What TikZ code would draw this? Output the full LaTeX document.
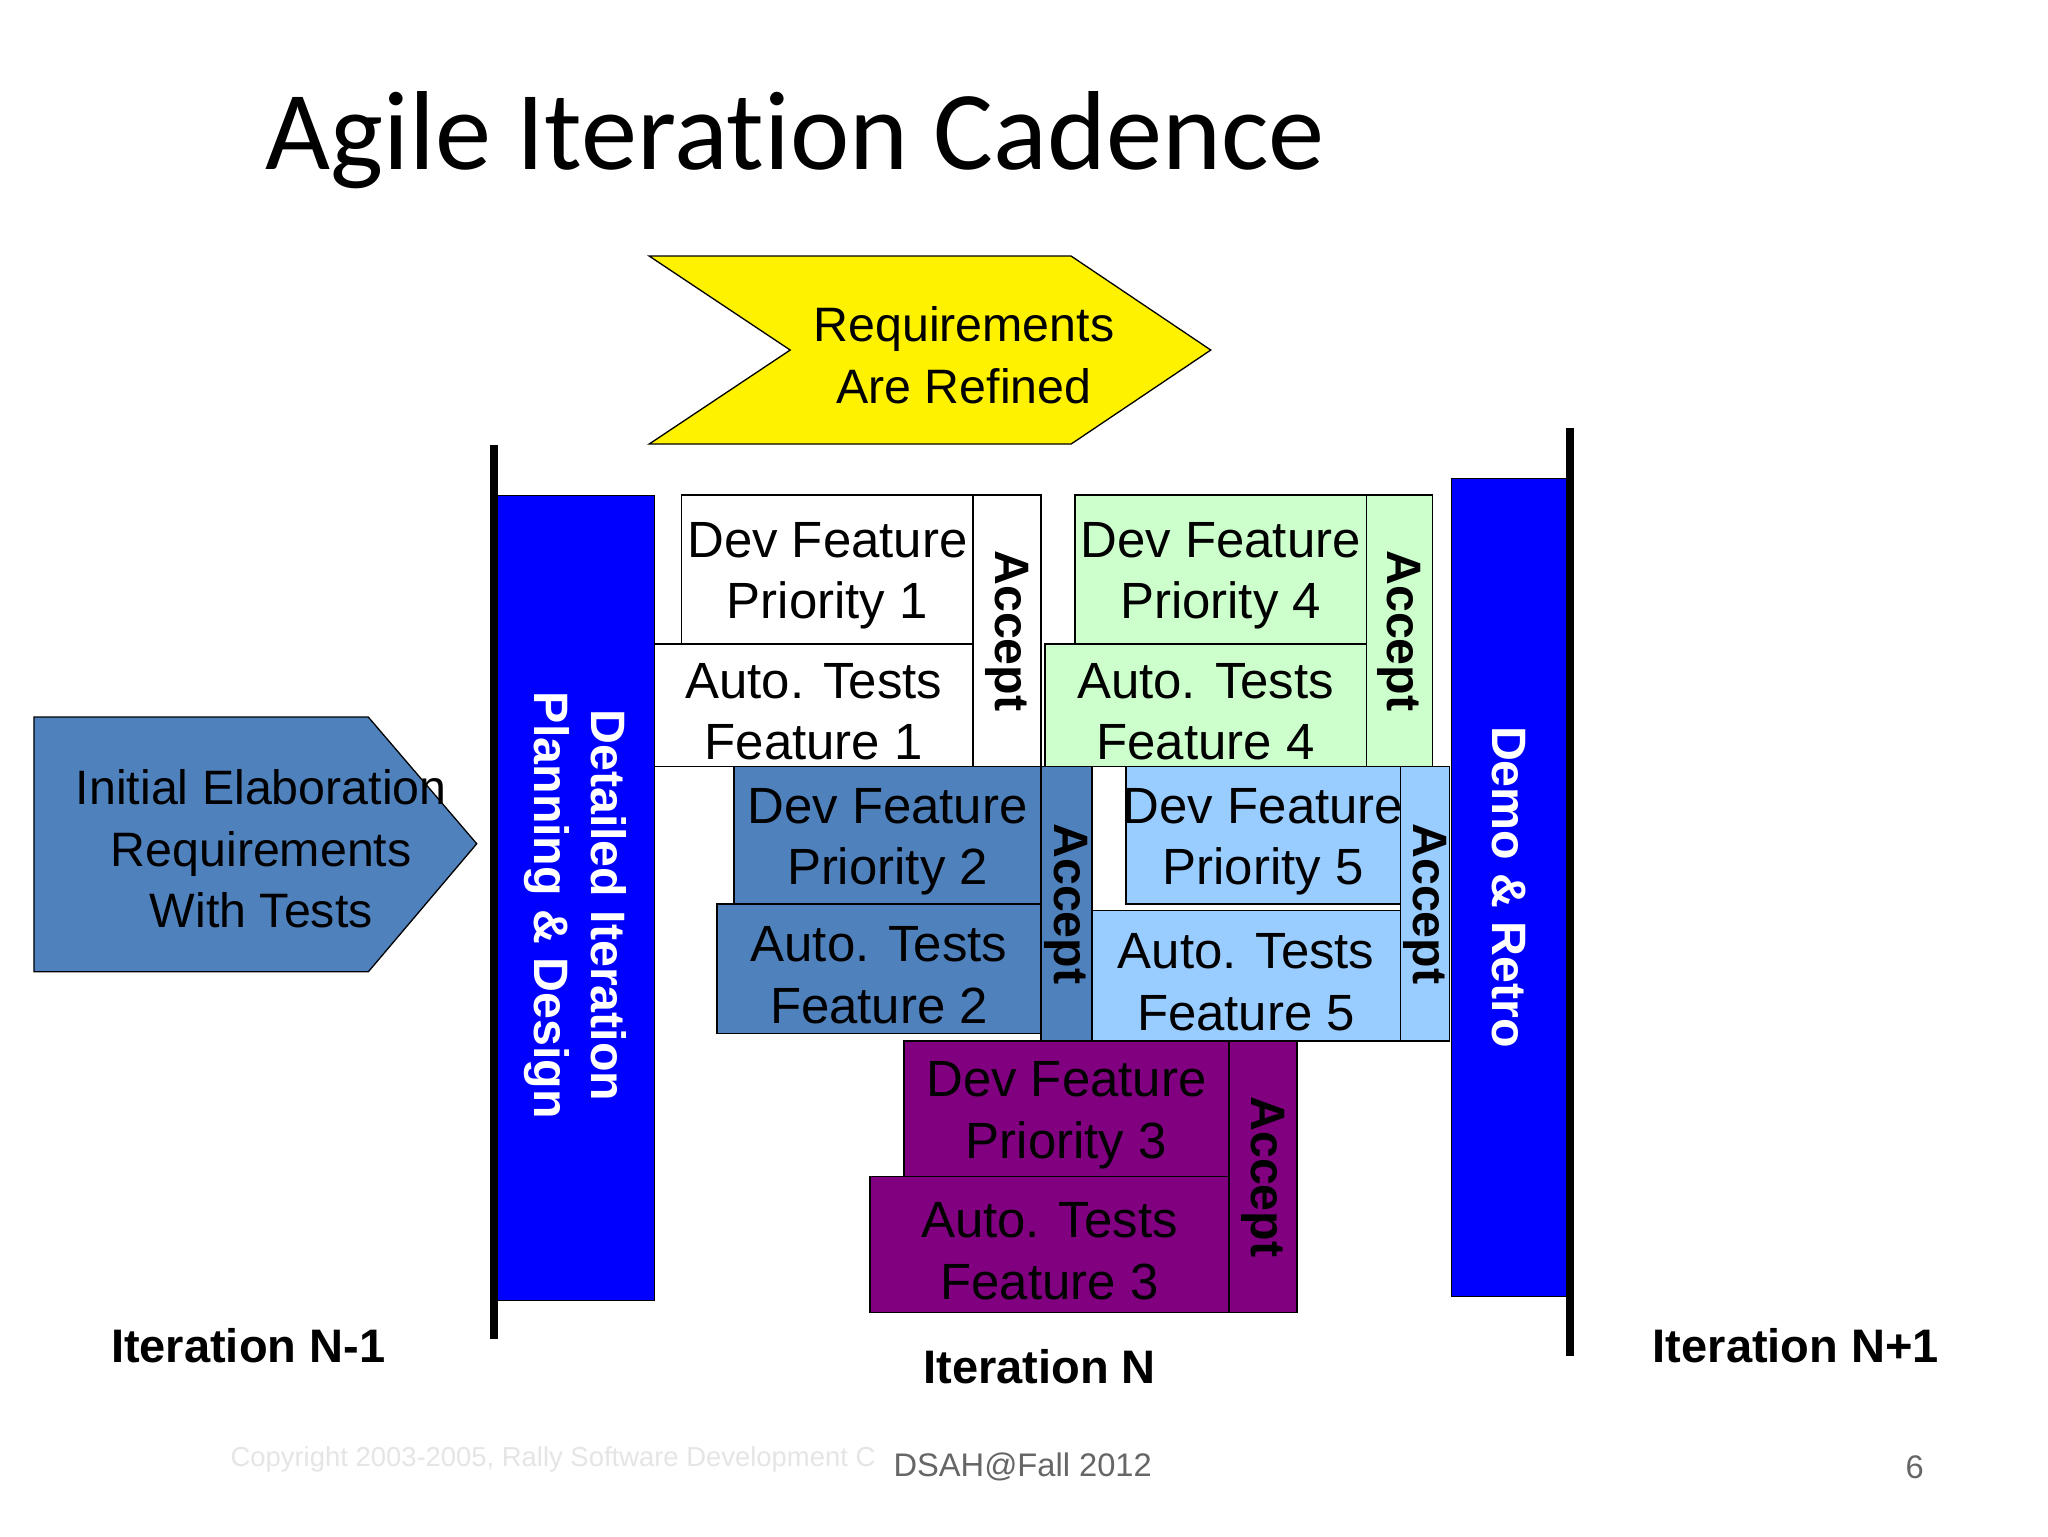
\documentclass[tikz,border=0pt]{standalone}
\usepackage{fontspec}
\setmainfont{Liberation Sans}
\newfontfamily\titlefont[Ligatures=NoCommon]{Carlito}
\definecolor{steel}{HTML}{4F81BD}
\definecolor{lblue}{HTML}{99CCFF}
\definecolor{lgreen}{HTML}{CCFFCC}
\definecolor{purp}{HTML}{800080}
\begin{document}
\begin{tikzpicture}[x=1pt,y=-1pt,
  box/.style={draw=black,line width=1pt,inner sep=0pt,align=center,font=\fontsize{39}{47}\selectfont},
  acc/.style={font=\fontsize{37}{40}\selectfont\bfseries,rotate=-90},
  vtxt/.style={font=\fontsize{37}{44}\selectfont\bfseries,rotate=-90,text=white,align=center},
  lbl/.style={font=\fontsize{36}{42}\selectfont\bfseries}]
\useasboundingbox[fill=white] (0,0) rectangle (1568,1176);
\node[anchor=base west,font=\titlefont\fontsize{86}{96}\selectfont] (title) at (200,130) {Agile Iteration Cadence};
% yellow arrow
\draw[fill=yellow,line width=1pt] (497,196) -- (820,196) -- (927,268) -- (820,340) -- (497,340) -- (605,268) -- cycle;
\node[align=center,font=\fontsize{37}{47}\selectfont] (req) at (738,272) {Requirements\\Are Refined};
% left arrow
\draw[fill=steel,line width=1pt] (26,549) -- (282,549) -- (365,646) -- (282,744) -- (26,744) -- cycle;
\node[align=center,font=\fontsize{37}{47}\selectfont] (init) at (200,650) {Initial Elaboration\\Requirements\\With Tests};
% blue bars
\node[draw=black,fill=blue,minimum width=121pt,minimum height=616pt,inner sep=0pt,anchor=north west] (plan) at (380,379) {};
\node[vtxt] at ([yshift=-6pt]plan.center) {Detailed Iteration\\Planning \& Design};
\node[draw=black,fill=blue,minimum width=88pt,minimum height=626pt,inner sep=0pt,anchor=north west] (demo) at (1111,366) {};
\node[vtxt] at (demo.center) {Demo \& Retro};
\draw[line width=6pt] (378,341) coordinate (l1) -- (378,1025) coordinate (l2);
\draw[line width=6pt] (1202,328) coordinate (r1) -- (1202,1038) coordinate (r2);
\tikzset{bt/.style={yshift=-5pt}}
% feature 1
\draw[box,fill=white] (522,379) rectangle node[bt] {Dev Feature\\Priority 1} (745,493);
\draw[box,fill=white] (501,493) rectangle node[bt] {Auto. Tests\\Feature 1} (745,587);
\draw[box,fill=white] (745,379) rectangle node[acc] {Accept} (797,587);
% feature 4
\draw[box,fill=lgreen] (823,379) rectangle node[bt] {Dev Feature\\Priority 4} (1046,493);
\draw[box,fill=lgreen] (800,493) rectangle node[bt] {Auto. Tests\\Feature 4} (1046,587);
\draw[box,fill=lgreen] (1046,379) rectangle node[acc] {Accept} (1097,587);
% feature 2
\draw[box,fill=steel] (562,587) rectangle node[bt] {Dev Feature\\Priority 2} (797,692);
\draw[box,fill=steel] (549,692) rectangle node[bt] {Auto. Tests\\Feature 2} (797,791);
\draw[box,fill=steel] (797,587) rectangle node[acc] {Accept} (836,797);
% feature 5
\draw[box,fill=lblue] (862,587) rectangle node[bt] {Dev Feature\\Priority 5} (1072,692);
\draw[box,fill=lblue] (836,697) rectangle node[bt] {Auto. Tests\\Feature 5} (1072,797);
\draw[box,fill=lblue] (1072,587) rectangle node[acc] {Accept} (1110,797);
% feature 3
\draw[box,fill=purp] (692,797) rectangle node[bt] {Dev Feature\\Priority 3} (941,901);
\draw[box,fill=purp] (666,901) rectangle node[bt] {Auto. Tests\\Feature 3} (941,1005);
\draw[box,fill=purp] (941,797) rectangle node[acc] {Accept} (993,1005);
% labels
\node[lbl] (n1) at (190,1030) {Iteration N-1};
\node[lbl] (n) at (796,1046) {Iteration N};
\node[lbl] (n2) at (1375,1030) {Iteration N+1};
\node[anchor=west,text=black!10,font=\fontsize{21}{24}\selectfont] (copy) at (173,1117) {Copyright 2003-2005, Rally Software Development C};
\node[text=black!60,font=\fontsize{25}{28}\selectfont,fill=white,inner sep=1pt] (dsah) at (783,1123) {DSAH@Fall 2012};
\node[text=black!60,font=\fontsize{25}{28}\selectfont] (pg) at (1466,1123) {6};
\end{tikzpicture}
\end{document}
